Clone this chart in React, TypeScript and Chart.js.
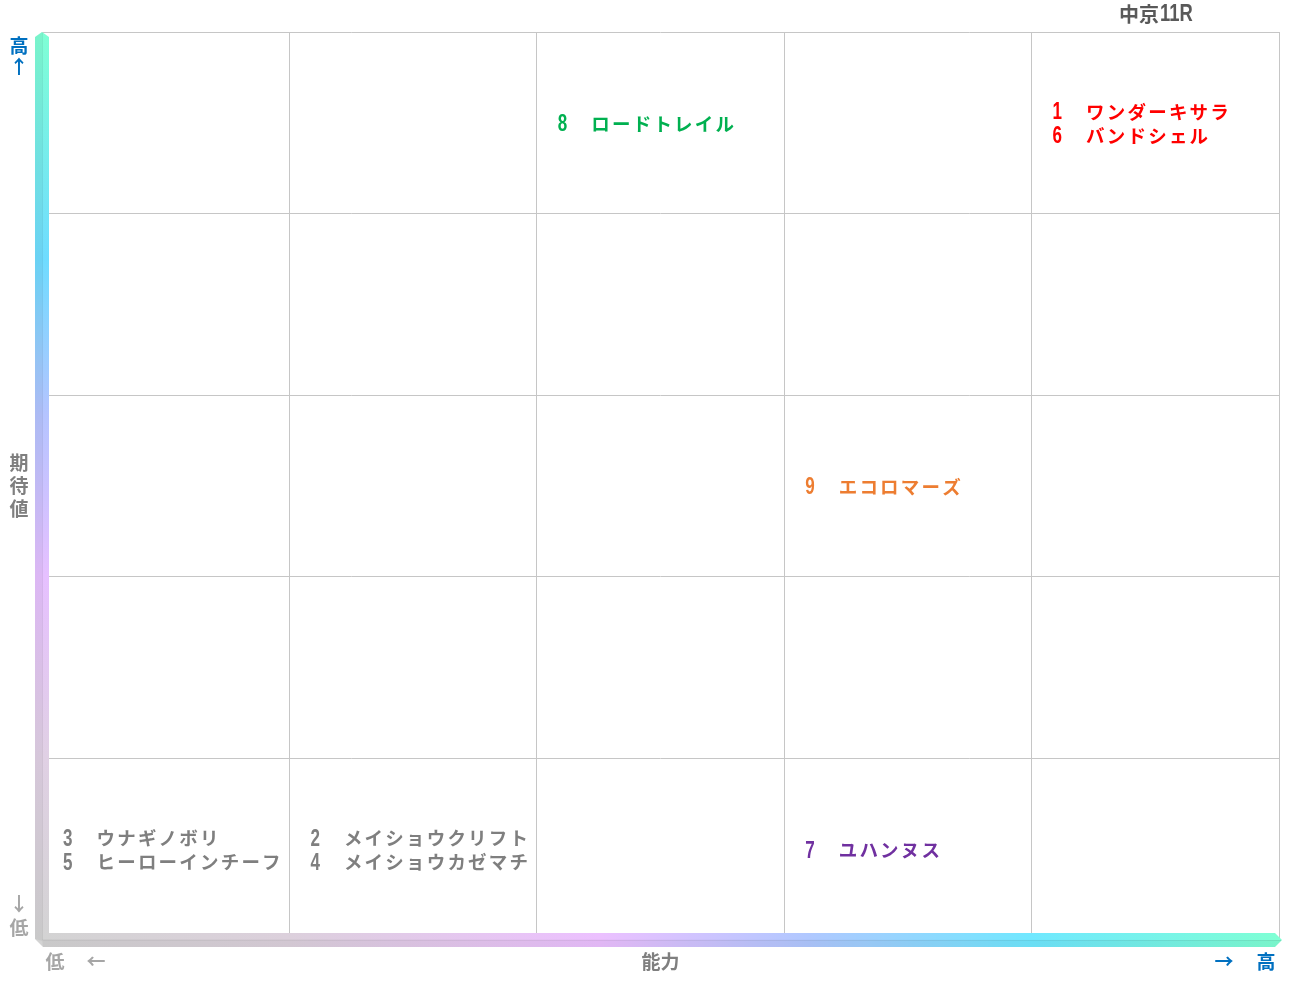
import React, { useEffect, useRef } from "react";
import { Chart, registerables } from "chart.js";
Chart.register(...registerables);

const chartTitle = "中京11R";
const yAxisTitle = ["期", "待", "値"];
const xAxisTitle = "能力";
const highLabel = "高";
const lowLabel = "低";

const horseNumbers = [1, 6, 8, 9, 7, 3, 5, 2, 4];
const horseNames = [
  "ワンダーキサラ",
  "バンドシェル",
  "ロードトレイル",
  "エコロマーズ",
  "ユハンヌス",
  "ウナギノボリ",
  "ヒーローインチーフ",
  "メイショウクリフト",
  "メイショウカゼマチ",
];
const abilityRank = [5, 5, 3, 4, 4, 1, 1, 2, 2];
const expectRank = [5, 5, 5, 3, 1, 1, 1, 1, 1];
const horseColors = [
  "#ff0000",
  "#ff0000",
  "#00b050",
  "#ed7d31",
  "#7030a0",
  "#7f7f7f",
  "#7f7f7f",
  "#7f7f7f",
  "#7f7f7f",
];

const JP = '"Noto Sans CJK JP", "Noto Sans", sans-serif';
const NUM = '"Liberation Sans", "DejaVu Sans", sans-serif';

function drawNarrow(ctx: CanvasRenderingContext2D, text: string, x: number, y: number, size: number, sx: number) {
  ctx.save();
  ctx.font = "bold " + size + "px " + NUM;
  ctx.textAlign = "left";
  ctx.textBaseline = "middle";
  ctx.translate(x, y);
  ctx.scale(sx, 1);
  ctx.fillText(text, 0, 0);
  ctx.restore();
}

const overlayPlugin = {
  id: "overlay",
  afterDraw(chart: any) {
    const ctx = chart.ctx as CanvasRenderingContext2D;
    const { left: L, right: R, top: T, bottom: B } = chart.chartArea;
    const xs = chart.scales.x;
    const ys = chart.scales.y;

    // vertical gradient bar
    ctx.save();
    const vg = ctx.createLinearGradient(0, T, 0, B);
    vg.addColorStop(0, "#7fffd4");
    vg.addColorStop(0.25, "#6fdcff");
    vg.addColorStop(0.42, "#b4c4ff");
    vg.addColorStop(0.6, "#e6c0ff");
    vg.addColorStop(0.8, "#e0d0e4");
    vg.addColorStop(1, "#d3d3d3");
    ctx.fillStyle = vg;
    ctx.beginPath();
    ctx.moveTo(L, T);
    ctx.lineTo(L + 7, T + 5);
    ctx.lineTo(L + 7, B + 7);
    ctx.lineTo(L + 1, B + 7);
    ctx.lineTo(L - 7, B - 1);
    ctx.lineTo(L - 7, T + 5);
    ctx.closePath();
    ctx.fill();
    ctx.fillStyle = "rgba(0,0,0,0.045)";
    ctx.beginPath();
    ctx.moveTo(L, T);
    ctx.lineTo(L, B + 1);
    ctx.lineTo(L - 7, B - 1);
    ctx.lineTo(L - 7, T + 5);
    ctx.closePath();
    ctx.fill();

    // horizontal gradient bar
    const hg = ctx.createLinearGradient(L, 0, R, 0);
    hg.addColorStop(0, "#d3d3d3");
    hg.addColorStop(0.2, "#dcd0dc");
    hg.addColorStop(0.45, "#ecc0ff");
    hg.addColorStop(0.62, "#b0c8ff");
    hg.addColorStop(0.8, "#70e8ff");
    hg.addColorStop(1, "#7fffd4");
    ctx.fillStyle = hg;
    ctx.beginPath();
    ctx.moveTo(L + 7, B - 7);
    ctx.lineTo(R - 4, B - 7);
    ctx.lineTo(R + 3, B);
    ctx.lineTo(R - 4, B + 7);
    ctx.lineTo(L + 1, B + 7);
    ctx.lineTo(L, B);
    ctx.closePath();
    ctx.fill();
    ctx.fillStyle = "rgba(0,0,0,0.045)";
    ctx.beginPath();
    ctx.moveTo(L, B);
    ctx.lineTo(R + 3, B);
    ctx.lineTo(R - 4, B + 7);
    ctx.lineTo(L + 1, B + 7);
    ctx.closePath();
    ctx.fill();
    ctx.strokeStyle = "rgba(0,0,0,0.07)";
    ctx.lineWidth = 1;
    ctx.beginPath();
    ctx.moveTo(L + 0.5, T + 1);
    ctx.lineTo(L + 0.5, B);
    ctx.lineTo(R + 2, B + 0.5);
    ctx.stroke();
    ctx.restore();

    // horse labels
    ctx.save();
    const cellCount: Record<string, number> = {};
    horseNumbers.forEach((_, i) => {
      const k = abilityRank[i] + "-" + expectRank[i];
      cellCount[k] = (cellCount[k] || 0) + 1;
    });
    const cellIdx: Record<string, number> = {};
    horseNumbers.forEach((num, i) => {
      const k = abilityRank[i] + "-" + expectRank[i];
      const n = cellCount[k];
      const j = cellIdx[k] || 0;
      cellIdx[k] = j + 1;
      const x0 = xs.getPixelForValue(abilityRank[i] - 1);
      const yc = ys.getPixelForValue(expectRank[i] - 0.5) + (j - (n - 1) / 2) * 24 + 1;
      ctx.fillStyle = horseColors[i];
      (ctx as any).letterSpacing = "0px";
      drawNarrow(ctx, String(num), x0 + 21, yc + 1, 23, 0.74);
      ctx.font = "bold 18.5px " + JP;
      (ctx as any).letterSpacing = "2.2px";
      ctx.textAlign = "left";
      ctx.textBaseline = "middle";
      ctx.fillText(horseNames[i], x0 + 54.5, yc);
    });
    (ctx as any).letterSpacing = "0px";

    // title
    ctx.fillStyle = "#595959";
    const tx = xs.getPixelForValue(4.5);
    ctx.font = "bold 20px " + JP;
    const w1 = ctx.measureText("中京").width;
    ctx.font = "bold 23px " + NUM;
    const w2 = ctx.measureText("11R").width * 0.8;
    const startX = tx - (w1 + w2) / 2;
    ctx.textAlign = "left";
    ctx.textBaseline = "middle";
    ctx.font = "bold 20px " + JP;
    ctx.fillText(chartTitle.slice(0, 2), startX, 14);
    drawNarrow(ctx, chartTitle.slice(2), startX + w1 + 1, 15, 23, 0.8);

    // axis labels
    ctx.textAlign = "center";
    ctx.textBaseline = "middle";
    ctx.font = "bold 19px " + JP;
    ctx.fillStyle = "#0070c0";
    ctx.fillText(highLabel, 19, 46);
    ctx.fillText("↑", 19, 67);
    ctx.fillText("→", 1224, 962);
    ctx.fillText(highLabel, 1266, 962);
    ctx.fillStyle = "#7f7f7f";
    const ym = (T + B) / 2;
    yAxisTitle.forEach((c, i) => ctx.fillText(c, 19, ym + (i - 1) * 23));
    ctx.fillText(xAxisTitle, (L + R) / 2, 962);
    ctx.fillStyle = "#a6a6a6";
    ctx.fillText("↓", 19, 904);
    ctx.fillText(lowLabel, 19, 928);
    ctx.fillText(lowLabel, 55, 962);
    ctx.fillText("←", 96, 962);
    ctx.restore();
  },
};

export default function App() {
  const ref = useRef<HTMLCanvasElement | null>(null);
  useEffect(() => {
    document.body.style.margin = "0";
    if (!ref.current) return;
    const chart = new Chart(ref.current, {
      type: "scatter",
      data: {
        datasets: [
          {
            data: horseNumbers.map((_, i) => ({ x: abilityRank[i] - 0.5, y: expectRank[i] - 0.5 })),
            pointRadius: 0,
            pointHoverRadius: 0,
          },
        ],
      },
      options: {
        animation: false,
        responsive: false,
        events: [],
        layout: { padding: { left: 42, top: 32, right: 12, bottom: 43 } },
        plugins: { legend: { display: false }, tooltip: { enabled: false }, title: { display: false } },
        scales: {
          x: {
            type: "linear",
            min: 0,
            max: 5,
            ticks: { display: false, stepSize: 1 },
            grid: { color: "#c6c6c6", drawTicks: false, lineWidth: 1 },
            border: { display: false },
          },
          y: {
            type: "linear",
            min: 0,
            max: 5,
            ticks: { display: false, stepSize: 1 },
            grid: { color: "#c6c6c6", drawTicks: false, lineWidth: 1 },
            border: { display: false },
          },
        },
      },
      plugins: [overlayPlugin],
    });
    return () => chart.destroy();
  }, []);
  return (
    <div style={{ width: 1291, height: 983, background: "#fff" }}>
      <canvas ref={ref} width={1291} height={983} style={{ display: "block" }} />
    </div>
  );
}
